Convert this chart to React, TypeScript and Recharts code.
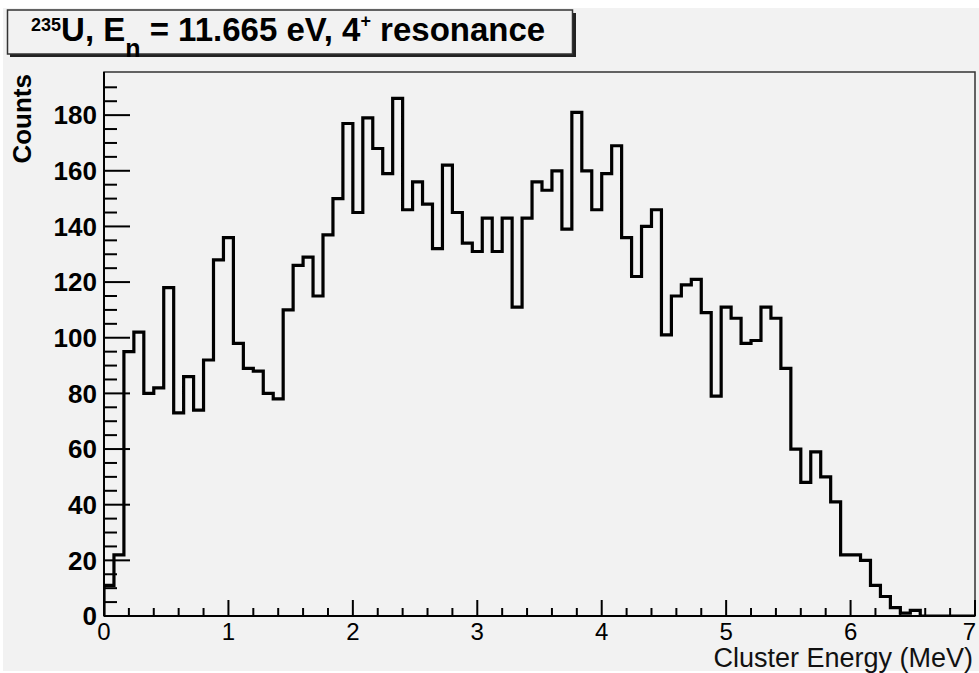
import { ComposedChart, Line, XAxis, YAxis } from 'recharts';

// 235U cluster energy spectrum, 0.08 MeV bins starting at 0
const BIN_WIDTH = 0.08;
const counts = [
  11, 22, 95, 102, 80, 82, 118, 73, 86, 74,
  92, 128, 136, 98, 89, 88, 80, 78, 110, 126,
  129, 115, 137, 150, 177, 145, 179, 168, 159, 186,
  146, 156, 148, 132, 162, 145, 134, 131, 143, 131,
  143, 111, 143, 156, 153, 160, 139, 181, 160, 146,
  159, 169, 136, 122, 140, 146, 101, 115, 119, 121,
  109, 79, 111, 107, 98, 99, 111, 107, 89, 60,
  48, 59, 50, 41, 22, 22, 20, 11, 7, 3,
  1, 2,
];

const xMajorTicks = [0, 1, 2, 3, 4, 5, 6, 7];
const yMajorTicks = [0, 20, 40, 60, 80, 100, 120, 140, 160, 180];
const X_MAX = 7;
const Y_MAX = 195.5;

const xTicks: number[] = [];
for (let i = 0; i <= 35; i++) xTicks.push(Number((i * 0.2).toFixed(2)));
const yTicks: number[] = [];
for (let v = 0; v <= 190; v += 5) yTicks.push(v);

const histData = [
  { x: 0, count: 0 },
  ...counts.map((c, i) => ({ x: Number((i * BIN_WIDTH).toFixed(2)), count: c })),
  { x: Number((counts.length * BIN_WIDTH).toFixed(2)), count: 0 },
  { x: X_MAX, count: 0 },
];

const font = '"Liberation Sans", Arial, Helvetica, sans-serif';

// plot area in pixels
const LEFT = 104;
const TOP = 72;
const RIGHT = 975;
const BOTTOM = 616;

function XTick(props: any) {
  const { x, y, payload } = props;
  const v = payload.value;
  const major = xMajorTicks.some((t) => Math.abs(t - v) < 1e-6);
  const last = Math.abs(v - X_MAX) < 1e-6;
  return (
    <g>
      <line x1={x} x2={x} y1={y} y2={y - (major ? 16 : 8)} stroke="#000" strokeWidth={2} />
      {major && (
        <text
          x={last ? x + 1 : x}
          y={y + 24}
          textAnchor={last ? 'end' : 'middle'}
          fontSize={24}
          fontFamily={font}
          fill="#000"
        >
          {Math.round(v)}
        </text>
      )}
    </g>
  );
}

function YTick(props: any) {
  const { x, y, payload } = props;
  const v = payload.value;
  const major = yMajorTicks.includes(v);
  return (
    <g>
      <line x1={x} x2={x + (major ? 26 : 13)} y1={y} y2={y} stroke="#000" strokeWidth={2} />
      {major && (
        <text
          x={x - 7}
          y={y}
          dy="0.36em"
          textAnchor="end"
          fontSize={26}
          fontWeight="bold"
          fontFamily={font}
          fill="#000"
        >
          {v}
        </text>
      )}
    </g>
  );
}

export default function App() {
  return (
    <div style={{ position: 'absolute', left: 0, top: 0, width: 979, height: 673, background: '#fff' }}>
      <div style={{ position: 'absolute', left: 3, top: 8, width: 976, height: 663, background: '#f2f2f2' }} />
      <div style={{ position: 'absolute', left: 0, top: 0 }}>
        <ComposedChart
          width={979}
          height={673}
          data={histData}
          margin={{ top: TOP, right: 979 - RIGHT, bottom: 0, left: 0 }}
        >
          <rect
            x={LEFT}
            y={TOP}
            width={RIGHT - LEFT}
            height={BOTTOM - TOP}
            fill="none"
            stroke="#333"
            strokeWidth={1.5}
          />
          <XAxis
            dataKey="x"
            type="number"
            domain={[0, X_MAX]}
            ticks={xTicks}
            interval={0}
            height={673 - BOTTOM}
            tickSize={0}
            tickMargin={0}
            tickLine={false}
            axisLine={{ stroke: '#000', strokeWidth: 2 }}
            tick={XTick}
            allowDataOverflow
          />
          <YAxis
            type="number"
            domain={[0, Y_MAX]}
            ticks={yTicks}
            interval={0}
            width={LEFT}
            tickSize={0}
            tickMargin={0}
            tickLine={false}
            axisLine={{ stroke: '#000', strokeWidth: 2 }}
            tick={YTick}
            allowDataOverflow
          />
          <Line
            type="stepAfter"
            dataKey="count"
            stroke="#000"
            strokeWidth={3.2}
            strokeLinejoin="miter"
            strokeLinecap="butt"
            dot={false}
            activeDot={false}
            isAnimationActive={false}
          />
          <text
            transform={`translate(31,${TOP + 2}) rotate(-90)`}
            textAnchor="end"
            fontSize={26}
            fontWeight="bold"
            fontFamily={font}
            fill="#000"
          >
            Counts
          </text>
          <text x={973} y={667} textAnchor="end" fontSize={27} fontFamily={font} fill="#111">
            Cluster Energy (MeV)
          </text>
          <g>
            <rect x={10} y={13} width={566} height={44} fill="#222" />
            <rect x={7.5} y={10} width={565} height={44} fill="#f2f2f2" stroke="#333" strokeWidth={1.5} />
            <text x={31} y={41} fontSize={33} fontWeight="bold" fontFamily={font} fill="#000">
              <tspan fontSize={18} dy={-10}>235</tspan>
              <tspan fontSize={33} dy={10}>U, E</tspan>
              <tspan fontSize={25} dy={16}>n</tspan>
              <tspan fontSize={33} dy={-16}> = 11.665 eV, 4</tspan>
              <tspan fontSize={18} dy={-14}>+</tspan>
              <tspan fontSize={33} dy={14}> resonance</tspan>
            </text>
          </g>
        </ComposedChart>
      </div>
    </div>
  );
}
